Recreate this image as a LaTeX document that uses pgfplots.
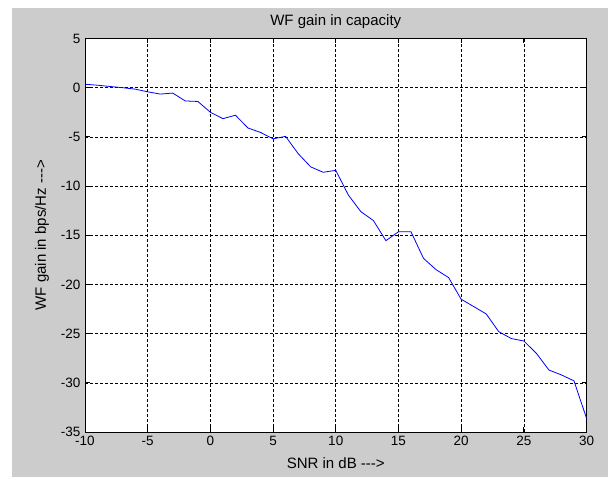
\documentclass[border=0pt]{standalone}
\usepackage{fontspec}
\setmainfont{Liberation Sans}
\usepackage{pgfplots}
\pgfplotsset{compat=1.18}
\definecolor{mgray}{RGB}{204,204,204}
\pgfplotstableread{
x y
-10 0.35
-9 0.25
-8 0.12
-7 0.0
-6 -0.15
-5 -0.42
-4 -0.65
-3 -0.55
-2 -1.35
-1 -1.4
0 -2.5
1 -3.15
2 -2.8
3 -4.1
4 -4.55
5 -5.2
6 -4.95
7 -6.7
8 -8.05
9 -8.6
10 -8.4
11 -10.9
12 -12.6
13 -13.5
14 -15.55
15 -14.65
16 -14.65
17 -17.35
18 -18.5
19 -19.3
20 -21.5
21 -22.25
22 -23.0
23 -24.8
24 -25.5
25 -25.75
26 -27.0
27 -28.7
28 -29.2
29 -29.8
30 -33.6
}\wfdata
\begin{document}
\begin{tikzpicture}[x=1bp,y=1bp]
\fill[white] (0,0) rectangle (608,477);
\fill[mgray] (12,0) rectangle (608,469);
\begin{axis}[
  at={(85bp,45bp)}, anchor=south west,
  width=501.5bp, height=393.5bp, scale only axis,
  xmin=-10, xmax=30, ymin=-35, ymax=5,
  xtick={-10,-5,...,30}, ytick={-35,-30,...,5},
  axis background/.style={fill=white},
  axis line style={line width=0.8bp},
  grid=major,
  grid style={black, line width=0.6bp, dash pattern=on 2.5bp off 2.5bp},
  tick align=inside, major tick length=5bp,
  tick style={black, line width=0.8bp},
  every tick label/.append style={font=\fontsize{13.5bp}{15bp}\selectfont},
  label style={font=\fontsize{15bp}{17bp}\selectfont},
  title style={font=\fontsize{15bp}{17bp}\selectfont},
  /pgf/number format/assume math mode=true,
  title={WF gain in capacity},
  title style={at={(axis description cs:0.5,1)}, anchor=base, yshift=7.5bp},
  xlabel={SNR in dB -{}-{}->},
  xlabel style={at={(axis description cs:0.5,-0.079)}, anchor=center},
  ylabel={WF gain in bps/Hz -{}-{}->},
  ylabel style={at={(axis description cs:-0.086,0.5)}, anchor=center},
  xticklabel style={yshift=-1bp},
  yticklabel style={xshift=-1bp},
]
\addplot[color={rgb,255:red,0;green,0;blue,255}, line width=0.8bp] table[x=x,y=y] {\wfdata};
\end{axis}
\end{tikzpicture}
\end{document}
